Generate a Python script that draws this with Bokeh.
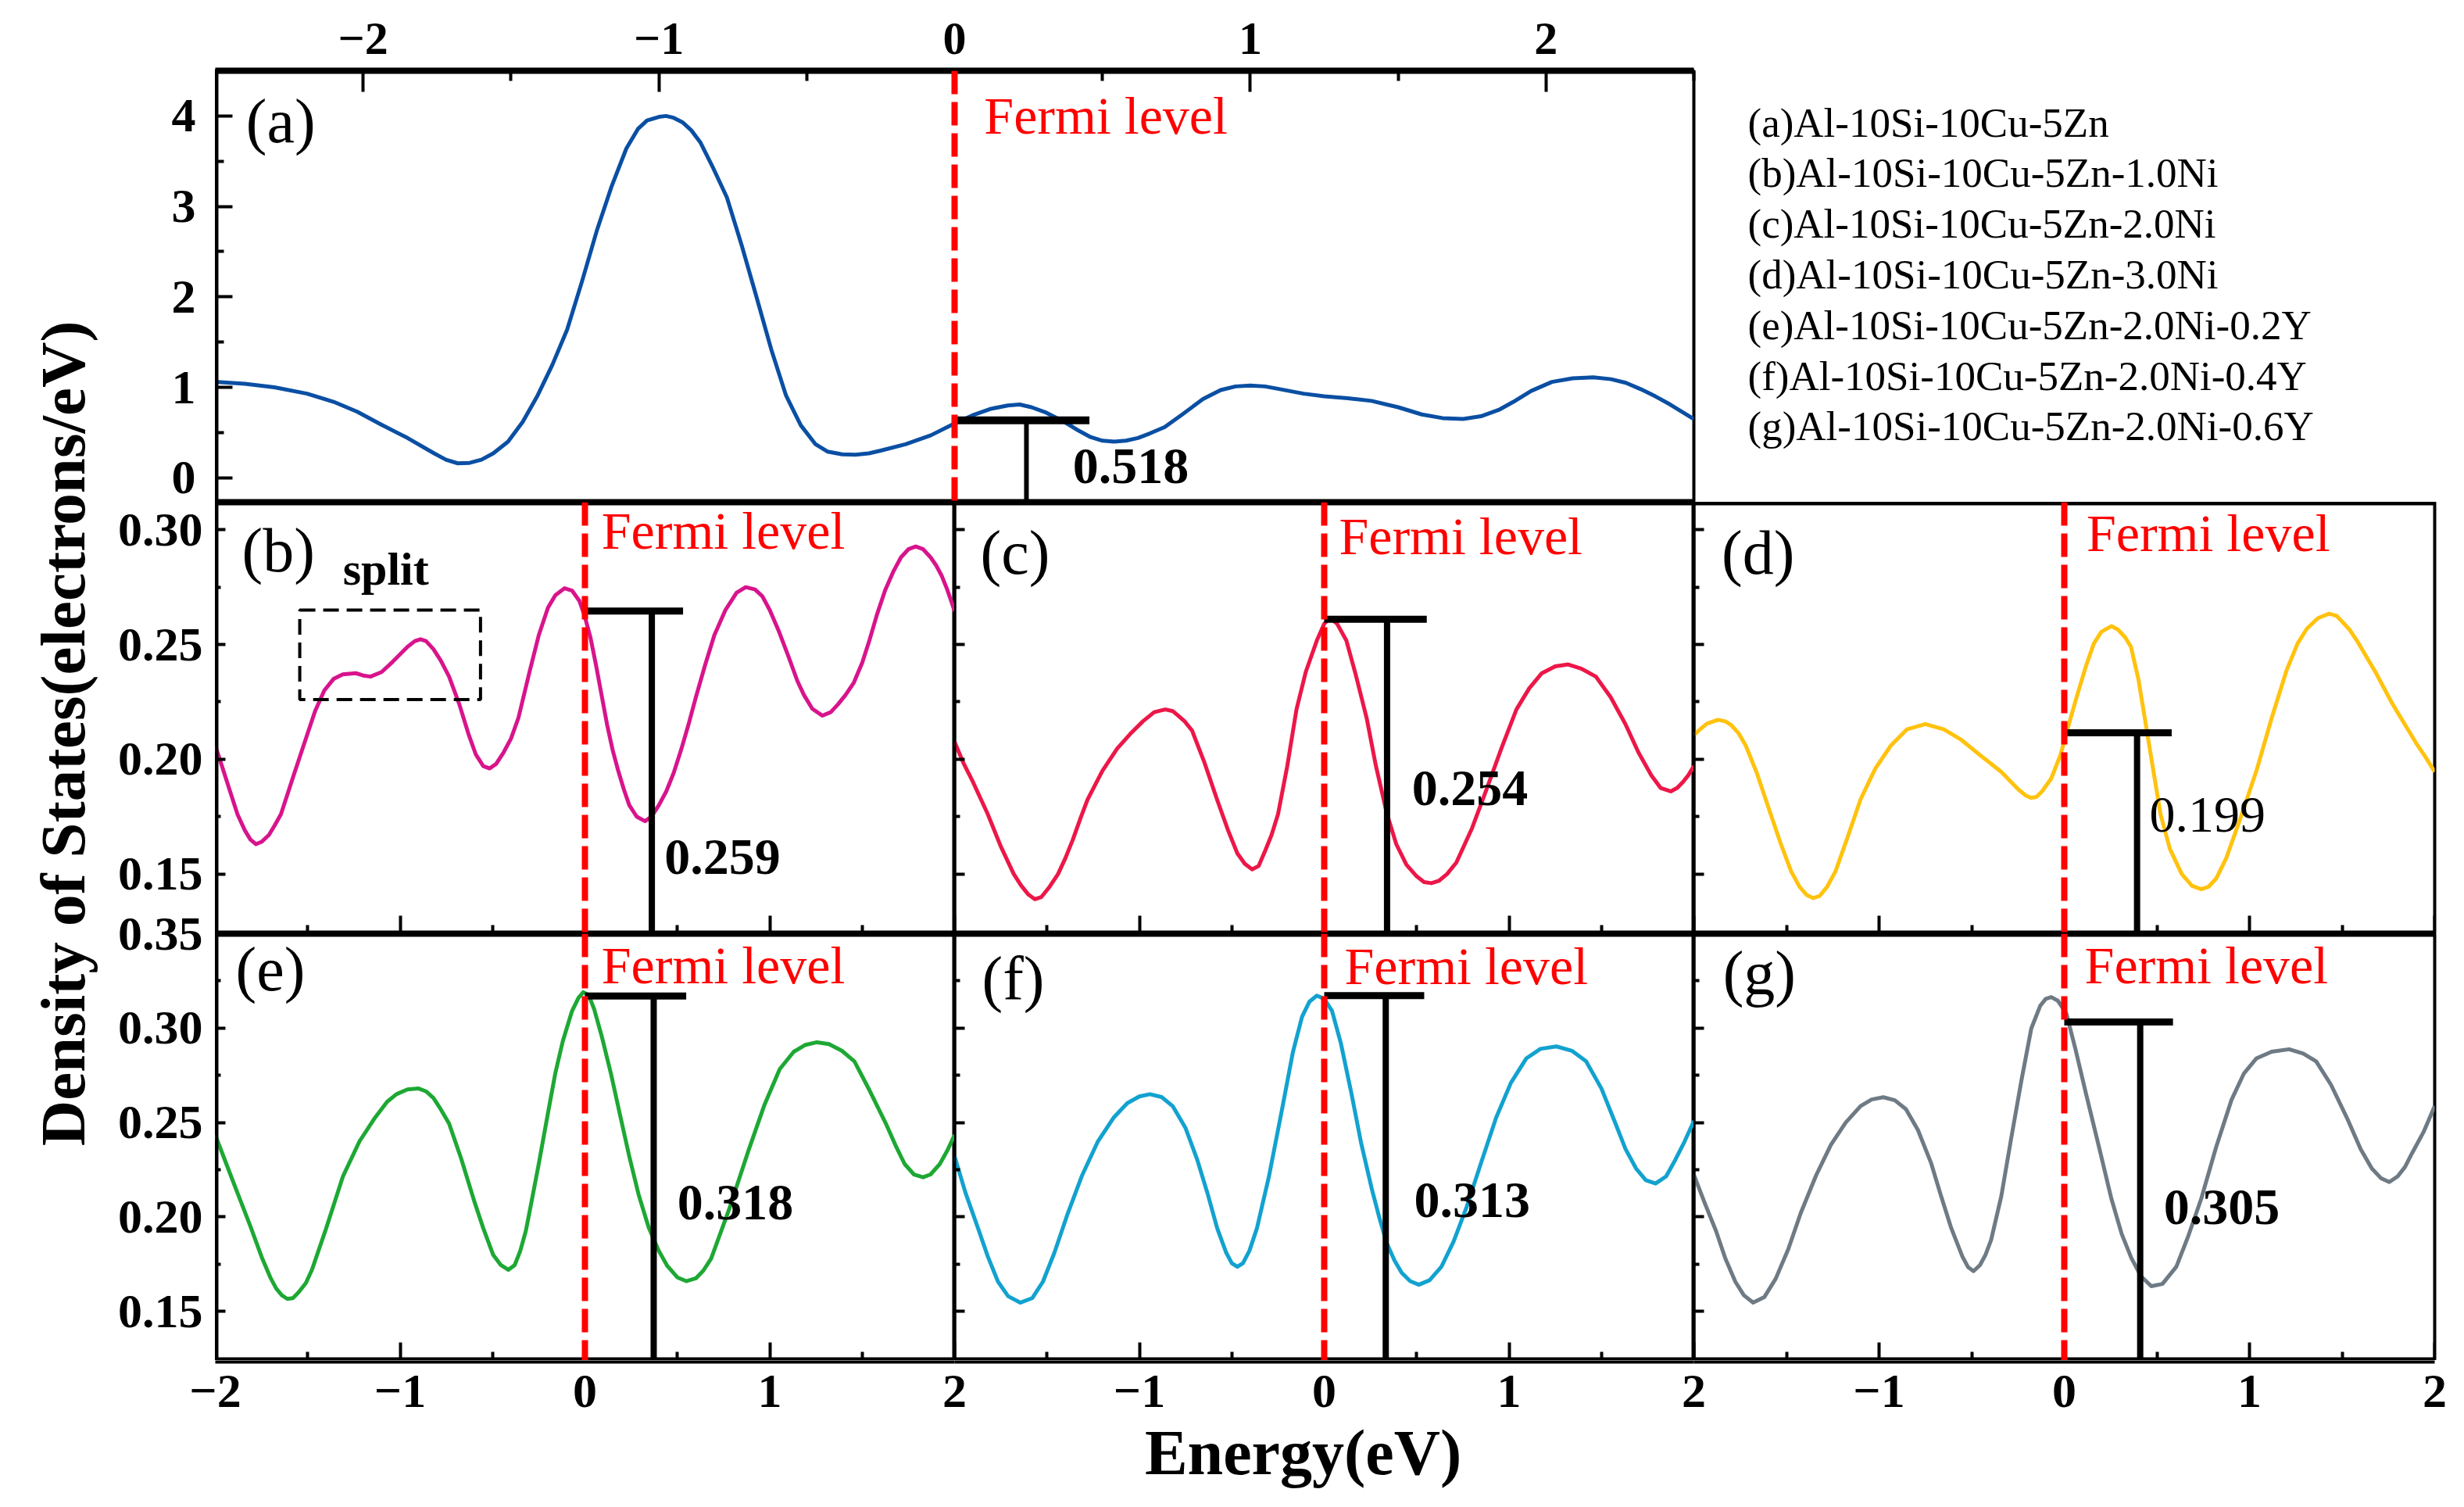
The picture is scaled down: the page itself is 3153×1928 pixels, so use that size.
import math

from bokeh.core.properties import value
from bokeh.embed import file_html
from bokeh.layouts import column, row
from bokeh.models import (CustomLabelingPolicy, FixedTicker, LinearAxis, PrintfTickFormatter,
                          Range1d, Span)
from bokeh.plotting import figure
from bokeh.resources import INLINE

SERIF = "Liberation Serif"

# ---- data ----
panel_tags = ["(a)", "(b)", "(c)", "(d)", "(e)", "(f)", "(g)"]
alloys = [
    "(a)Al-10Si-10Cu-5Zn",
    "(b)Al-10Si-10Cu-5Zn-1.0Ni",
    "(c)Al-10Si-10Cu-5Zn-2.0Ni",
    "(d)Al-10Si-10Cu-5Zn-3.0Ni",
    "(e)Al-10Si-10Cu-5Zn-2.0Ni-0.2Y",
    "(f)Al-10Si-10Cu-5Zn-2.0Ni-0.4Y",
    "(g)Al-10Si-10Cu-5Zn-2.0Ni-0.6Y",
]
colors = ["#0A4FA3", "#D8148C", "#EC1748", "#FFC20E", "#1DA834", "#12A2CF", "#6E7A84"]

energy_a = [-2.5, -2.4, -2.3, -2.19, -2.1, -2.02, -1.94, -1.85, -1.76, -1.72, -1.68, -1.64, -1.6,
            -1.56, -1.51, -1.46, -1.41, -1.36, -1.31, -1.26, -1.21, -1.16, -1.11, -1.07, -1.04,
            -1.0, -0.976, -0.95, -0.92, -0.89, -0.86, -0.82, -0.77, -0.72, -0.67, -0.62, -0.57,
            -0.52, -0.47, -0.43, -0.38, -0.335, -0.29, -0.25, -0.166, -0.08, 0.0, 0.06, 0.12,
            0.18, 0.22, 0.26, 0.31, 0.37, 0.42, 0.46, 0.5, 0.54, 0.58, 0.62, 0.66, 0.71, 0.77,
            0.84, 0.9, 0.95, 1.0, 1.05, 1.1, 1.18, 1.25, 1.33, 1.41, 1.5, 1.58, 1.65, 1.72, 1.78,
            1.84, 1.89, 1.95, 2.02, 2.09, 2.16, 2.22, 2.27, 2.32, 2.37, 2.42, 2.46, 2.5]
dos_a = [1.06, 1.04, 1.0, 0.93, 0.84, 0.73, 0.59, 0.44, 0.27, 0.2, 0.16, 0.165, 0.2,
         0.27, 0.4, 0.62, 0.91, 1.25, 1.64, 2.17, 2.73, 3.22, 3.64, 3.86, 3.95,
         3.99, 4.0, 3.98, 3.93, 3.84, 3.71, 3.45, 3.1, 2.57, 2.0, 1.42, 0.91,
         0.58, 0.37, 0.29, 0.26, 0.255, 0.27, 0.3, 0.37, 0.47, 0.6, 0.69, 0.76,
         0.8, 0.81, 0.78, 0.72, 0.62, 0.52, 0.45, 0.41, 0.4, 0.41, 0.44, 0.49, 0.56, 0.7,
         0.87, 0.97, 1.01, 1.02, 1.01, 0.98, 0.93, 0.9, 0.88, 0.85, 0.78, 0.7, 0.66, 0.65, 0.68,
         0.75, 0.84, 0.96, 1.06, 1.1, 1.11, 1.09, 1.05, 0.98, 0.9, 0.81, 0.73, 0.65]

energy_b = [-2.0, -1.96, -1.92, -1.88, -1.84, -1.81, -1.78, -1.75, -1.71, -1.68, -1.645, -1.58,
            -1.51, -1.46, -1.41, -1.36, -1.31, -1.24, -1.2, -1.16, -1.1, -1.04, -0.96, -0.92,
            -0.89, -0.86, -0.82, -0.78, -0.735, -0.68, -0.63, -0.59, -0.55, -0.516, -0.48, -0.44,
            -0.4, -0.36, -0.3, -0.25, -0.2, -0.16, -0.11, -0.07, -0.03, 0.0, 0.03, 0.06, 0.09,
            0.12, 0.15, 0.18, 0.21, 0.24, 0.28, 0.325, 0.36, 0.4, 0.44, 0.48, 0.52, 0.56, 0.6,
            0.65, 0.7, 0.76, 0.82, 0.87, 0.92, 0.96, 1.0, 1.05, 1.1, 1.15, 1.185, 1.23, 1.285,
            1.33, 1.37, 1.41, 1.455, 1.5, 1.54, 1.58, 1.625, 1.67, 1.71, 1.75, 1.79, 1.83, 1.87,
            1.9, 1.93, 1.96, 2.0]
dos_b = [0.206, 0.196, 0.186, 0.176, 0.169, 0.165, 0.163, 0.164, 0.167, 0.171, 0.176, 0.192,
         0.209, 0.221, 0.23, 0.235, 0.237, 0.2375, 0.2365, 0.236, 0.238, 0.2425, 0.249, 0.2515,
         0.2523, 0.2515, 0.248, 0.243, 0.236, 0.224, 0.211, 0.202, 0.197, 0.196, 0.198, 0.203,
         0.209, 0.218, 0.238, 0.254, 0.266, 0.2715, 0.2745, 0.2735, 0.269, 0.262, 0.253, 0.241,
         0.228, 0.215, 0.204, 0.195, 0.187, 0.18, 0.175, 0.173, 0.175, 0.18, 0.186, 0.194, 0.204,
         0.215, 0.227, 0.241, 0.254, 0.265, 0.2725, 0.275, 0.274, 0.271, 0.265, 0.2556, 0.245,
         0.234, 0.228, 0.222, 0.219, 0.2205, 0.224, 0.228, 0.2334, 0.242, 0.252, 0.263, 0.2738,
         0.282, 0.288, 0.2915, 0.2927, 0.2915, 0.288, 0.2845, 0.28, 0.274, 0.2646]

energy_c = [-2.0, -1.95, -1.9, -1.86, -1.82, -1.75, -1.68, -1.64, -1.6, -1.565, -1.53, -1.49,
            -1.44, -1.4, -1.36, -1.32, -1.28, -1.2, -1.12, -1.05, -0.98, -0.92, -0.86, -0.82,
            -0.79, -0.755, -0.715, -0.65, -0.58, -0.52, -0.47, -0.43, -0.39, -0.355, -0.32,
            -0.285, -0.25, -0.2, -0.15, -0.1, -0.04, 0.0, 0.03, 0.07, 0.12, 0.17, 0.23, 0.28,
            0.34, 0.39, 0.445, 0.5, 0.54, 0.58, 0.62, 0.665, 0.715, 0.8, 0.877, 0.96, 1.04, 1.11,
            1.176, 1.25, 1.32, 1.39, 1.47, 1.55, 1.63, 1.7, 1.77, 1.82, 1.875, 1.91, 1.94, 1.97,
            2.0]
dos_c = [0.2075, 0.198, 0.19, 0.183, 0.176, 0.162, 0.15, 0.145, 0.141, 0.139, 0.14, 0.144,
         0.15, 0.157, 0.165, 0.174, 0.1825, 0.195, 0.2047, 0.211, 0.2166, 0.2205, 0.2217, 0.221,
         0.219, 0.2165, 0.2125, 0.199, 0.1825, 0.169, 0.159, 0.1545, 0.152, 0.1535, 0.16,
         0.167, 0.176, 0.197, 0.2217, 0.238, 0.2517, 0.259, 0.2616, 0.259, 0.2517, 0.237, 0.2178,
         0.197, 0.176, 0.163, 0.154, 0.149, 0.1465, 0.146, 0.147, 0.15, 0.155, 0.17, 0.1866,
         0.205, 0.2217, 0.231, 0.2374, 0.2405, 0.2413, 0.2395, 0.236, 0.227, 0.2153, 0.203,
         0.193, 0.1875, 0.186, 0.1875, 0.19, 0.193, 0.197]

energy_d = [-2.0, -1.96, -1.93, -1.87, -1.83, -1.8, -1.76, -1.72, -1.66, -1.585, -1.53, -1.475,
            -1.43, -1.39, -1.355, -1.32, -1.28, -1.235, -1.17, -1.1, -1.02, -0.936, -0.85, -0.75,
            -0.65, -0.56, -0.45, -0.34, -0.25, -0.21, -0.18, -0.15, -0.12, -0.07, -0.02, 0.025,
            0.07, 0.12, 0.16, 0.2, 0.254, 0.29, 0.33, 0.36, 0.4, 0.44, 0.48, 0.52, 0.57, 0.634,
            0.69, 0.74, 0.78, 0.82, 0.875, 0.95, 1.04, 1.12, 1.2, 1.26, 1.31, 1.37, 1.43, 1.47,
            1.5, 1.54, 1.58, 1.68, 1.77, 1.84, 1.9, 1.95, 2.0]
dos_d = [0.2105, 0.2135, 0.2155, 0.2172, 0.2165, 0.215, 0.2115, 0.206, 0.194, 0.176, 0.163, 0.1512,
         0.1445, 0.1408, 0.1395, 0.1405, 0.1445, 0.1512, 0.166, 0.1825, 0.196, 0.206, 0.213, 0.2153,
         0.213, 0.2087, 0.2015, 0.1945, 0.187, 0.1843, 0.1832, 0.1836, 0.186, 0.1917, 0.202, 0.2153,
         0.228, 0.2413, 0.2505, 0.2555, 0.258, 0.2565, 0.253, 0.249, 0.235, 0.2153, 0.1955, 0.176,
         0.161, 0.15, 0.1448, 0.1434, 0.1445, 0.148, 0.157, 0.174, 0.1956, 0.218, 0.2387, 0.2505,
         0.2569, 0.2615, 0.2634, 0.2625, 0.26, 0.2565, 0.2517, 0.238, 0.2244, 0.215, 0.207, 0.201,
         0.1945]

energy_e = [-2.0, -1.94, -1.88, -1.81, -1.746, -1.7, -1.67, -1.64, -1.61, -1.58, -1.55, -1.51,
            -1.477, -1.4, -1.31, -1.22, -1.14, -1.07, -1.02, -0.96, -0.9, -0.86, -0.82, -0.78,
            -0.735, -0.67, -0.6, -0.55, -0.497, -0.455, -0.414, -0.38, -0.35, -0.32, -0.296,
            -0.25, -0.2, -0.16, -0.12, -0.07, -0.035, -0.009, 0.02, 0.05, 0.09, 0.14, 0.19, 0.24,
            0.29, 0.345, 0.4, 0.446, 0.5, 0.548, 0.6, 0.64, 0.683, 0.78, 0.885, 0.97, 1.054, 1.13,
            1.19, 1.255, 1.32, 1.39, 1.458, 1.54, 1.628, 1.68, 1.73, 1.78, 1.83, 1.87, 1.92, 1.96,
            2.0]
dos_e = [0.2434, 0.228, 0.2127, 0.195, 0.178, 0.1675, 0.162, 0.1585, 0.1566, 0.157, 0.16, 0.165,
         0.172, 0.194, 0.2213, 0.24, 0.252, 0.261, 0.265, 0.2675, 0.268, 0.2665, 0.263, 0.257,
         0.2494, 0.231, 0.2087, 0.194, 0.18, 0.1745, 0.172, 0.1745, 0.182, 0.1925, 0.2045,
         0.228, 0.255, 0.2762, 0.293, 0.309, 0.316, 0.319, 0.3175, 0.31, 0.296, 0.2762, 0.254,
         0.232, 0.212, 0.1944, 0.182, 0.174, 0.168, 0.166, 0.1675, 0.1715, 0.178, 0.204, 0.2352,
         0.259, 0.2783, 0.2875, 0.291, 0.2925, 0.2915, 0.288, 0.2824, 0.267, 0.2495, 0.238, 0.228,
         0.2225, 0.221, 0.2225, 0.228, 0.235, 0.2434]

energy_f = [-2.0, -1.94, -1.873, -1.82, -1.765, -1.71, -1.645, -1.58, -1.522, -1.46, -1.387, -1.31,
            -1.226, -1.14, -1.065, -1.0, -0.943, -0.88, -0.82, -0.75, -0.687, -0.63, -0.579,
            -0.53, -0.5, -0.47, -0.44, -0.405, -0.364, -0.3, -0.228, -0.17, -0.12, -0.08, -0.04,
            0.0, 0.042, 0.09, 0.148, 0.2, 0.258, 0.3, 0.338, 0.38, 0.419, 0.465, 0.512, 0.57,
            0.634, 0.7, 0.77, 0.85, 0.93, 1.01, 1.094, 1.17, 1.256, 1.34, 1.417, 1.5, 1.577, 1.63,
            1.687, 1.74, 1.793, 1.85, 1.9, 1.95, 2.0]
dos_f = [0.232, 0.2125, 0.194, 0.179, 0.1657, 0.158, 0.1546, 0.157, 0.1657, 0.181, 0.202, 0.222,
         0.2397, 0.2525, 0.2603, 0.2638, 0.265, 0.2635, 0.2587, 0.247, 0.2303, 0.212, 0.194,
         0.181, 0.1755, 0.1736, 0.1755, 0.182, 0.194, 0.221, 0.2571, 0.287, 0.306, 0.314, 0.3172,
         0.3155, 0.3092, 0.292, 0.265, 0.239, 0.2146, 0.199, 0.1862, 0.177, 0.1705, 0.166, 0.1641,
         0.1665, 0.1736, 0.187, 0.2051, 0.229, 0.2525, 0.271, 0.284, 0.289, 0.2903, 0.288, 0.2824,
         0.268, 0.2492, 0.236, 0.2257, 0.2195, 0.2177, 0.2215, 0.2303, 0.24, 0.2508]

energy_g = [-2.0, -1.94, -1.88, -1.83, -1.776, -1.73, -1.68, -1.62, -1.558, -1.49, -1.423, -1.34,
            -1.26, -1.18, -1.1, -1.04, -0.977, -0.915, -0.855, -0.79, -0.72, -0.665, -0.61, -0.55,
            -0.52, -0.49, -0.455, -0.425, -0.395, -0.34, -0.287, -0.23, -0.178, -0.13, -0.1, -0.07,
            -0.035, 0.011, 0.06, 0.118, 0.19, 0.254, 0.31, 0.362, 0.415, 0.47, 0.53, 0.605, 0.67,
            0.74, 0.82, 0.903, 0.97, 1.038, 1.12, 1.214, 1.29, 1.36, 1.44, 1.526, 1.6, 1.66, 1.71,
            1.755, 1.8, 1.84, 1.877, 1.94, 2.0]
dos_g = [0.2224, 0.207, 0.1925, 0.178, 0.1657, 0.1585, 0.1546, 0.1575, 0.1673, 0.183, 0.202, 0.222,
         0.2382, 0.25, 0.2587, 0.2622, 0.2634, 0.2618, 0.2571, 0.246, 0.2288, 0.211, 0.194, 0.179,
         0.1735, 0.1713, 0.1745, 0.18, 0.1878, 0.211, 0.2414, 0.273, 0.2998, 0.3118, 0.3155, 0.3164,
         0.3145, 0.3078, 0.289, 0.265, 0.236, 0.2098, 0.191, 0.1783, 0.1685, 0.1633, 0.1645, 0.1736,
         0.19, 0.2098, 0.237, 0.262, 0.276, 0.284, 0.2875, 0.2888, 0.2865, 0.2824, 0.27, 0.2525,
         0.236, 0.2257, 0.2205, 0.2185, 0.2215, 0.2265, 0.2336, 0.245, 0.2587]

energies = [energy_a, energy_b, energy_c, energy_d, energy_e, energy_f, energy_g]
dos = [dos_a, dos_b, dos_c, dos_d, dos_e, dos_f, dos_g]

# DOS level marked at the Fermi level ("T" marker) and its label
mark_level = [0.636, 0.2646, 0.261, 0.2115, 0.317, 0.3172, 0.3032]
mark_end = [0.456, 0.531, 0.555, 0.58, 0.548, 0.541, 0.587]
mark_stem = [0.243, 0.362, 0.34, 0.393, 0.372, 0.333, 0.41]
mark_text = ["0.518", "0.259", "0.254", "0.199", "0.318", "0.313", "0.305"]
mark_text_x = [0.4, 0.43, 0.475, 0.46, 0.5, 0.486, 0.537]
mark_text_y = [0.13, 0.1573, 0.1872, 0.1757, 0.2077, 0.2088, 0.2051]
mark_bold = [True, True, True, False, True, True, True]

fermi_text_x = [0.1, 0.09, 0.08, 0.12, 0.09, 0.11, 0.11]
fermi_text_y = [4.0, 0.2994, 0.2973, 0.2984, 0.3333, 0.3329, 0.3333]
tag_x = [-2.396, -1.856, -1.86, -1.85, -1.89, -1.852, -1.843]
tag_y = [3.94, 0.2912, 0.2902, 0.2902, 0.3312, 0.3263, 0.329]

split_box_x = [-1.543, -0.565]
split_box_y = [0.226, 0.265]
split_pos = [-1.31, 0.283]

energy_range_a = (-2.5, 2.5)
energy_range = (-2, 2)
dos_range_a = (-0.27, 4.5)
dos_range_top_row = (0.124, 0.312)
dos_range_bottom_row = (0.124, 0.35)

energy_ticks = [-2, -1, 0, 1, 2]
energy_minor = [-1.5, -0.5, 0.5, 1.5]
energy_top_minor = [-2.5, -1.5, -0.5, 0.5, 1.5, 2.5]
dos_a_ticks = [0, 1, 2, 3, 4]
dos_a_minor = [0.5, 1.5, 2.5, 3.5]
dos_ticks_top_row = [0.15, 0.2, 0.25, 0.3]
dos_ticks_bottom_row = [0.15, 0.2, 0.25, 0.3, 0.35]
dos_minor = [0.175, 0.225, 0.275, 0.325]
minus_labels = {-2: "\u22122", -1: "\u22121"}

# ---- layout sizes (px) ----
LEFT = 275                 # left strip: y title and y tick labels
COL_W = [946, 946, 948]
ROW_H = [552, 552, 546]
TOP = 90
BOTTOM = 175
LEG_W = 960
PLOT_H = TOP + sum(ROW_H)
FULL_W = LEFT + sum(COL_W) + 25

no_labels = CustomLabelingPolicy(code="for (const i of indices) { indices.unset(i) } return indices")


def add_axis(p, side, ticks, minor, major_len, minor_len, line_width, labelled=False,
             fixed=None, standoff=10, overrides=None, fmt=None, size="62px", **kw):
    ax = LinearAxis(ticker=FixedTicker(ticks=ticks, minor_ticks=minor), **kw)
    if fixed is not None:
        ax.fixed_location = fixed
    ax.major_tick_in = major_len
    ax.major_tick_out = 0
    ax.minor_tick_in = minor_len
    ax.minor_tick_out = 0
    ax.major_tick_line_width = 4
    ax.minor_tick_line_width = 4
    if major_len == 0:
        ax.major_tick_line_color = None
        ax.minor_tick_line_color = None
    if line_width:
        ax.axis_line_width = line_width
    else:
        ax.axis_line_color = None
    ax.major_label_text_font = SERIF
    ax.major_label_text_font_style = "bold"
    ax.major_label_text_font_size = size
    ax.major_label_text_color = "black"
    ax.major_label_standoff = standoff
    if not labelled:
        ax.major_label_policy = no_labels
    if fmt is not None:
        ax.formatter = fmt
    if overrides:
        ax.major_label_overrides = overrides
    p.add_layout(ax, side)
    return ax


def screen_range(v0, v1, px0, px1, total, flip=False):
    # range that puts v0..v1 on pixels px0..px1 of a frame that is `total` pixels long
    s = (px1 - px0) / (v1 - v0)
    if flip:  # pixels counted from the top
        return Range1d(v0 - (total - px1) / s, v1 + px0 / s)
    return Range1d(v0 - px0 / s, v0 + (total - px0) / s)


def bare_figure(**kw):
    p = figure(x_axis_location=None, y_axis_location=None, toolbar_location=None,
               output_backend="svg", min_border=0, **kw)
    p.outline_line_color = None
    p.grid.visible = False
    return p


def make_panel(i, xr, yr, fw, fh, right=0, top=0):
    p = figure(x_range=Range1d(*xr), y_range=Range1d(*yr), frame_width=fw, frame_height=fh,
               x_axis_location=None, y_axis_location=None, toolbar_location=None,
               output_backend="svg", min_border_left=0, min_border_right=right,
               min_border_top=top, min_border_bottom=0)
    p.outline_line_color = "black"
    p.outline_line_width = 4
    p.background_fill_color = "white"
    p.border_fill_color = "white"
    p.grid.visible = False

    p.line(energies[i], dos[i], line_color=colors[i], line_width=5, line_join="round")
    p.add_layout(Span(location=0, dimension="height", line_color="#FF0000",
                      line_width=8, line_dash="30 10"))

    wide = i == 0
    p.segment(x0=[0], y0=[mark_level[i]], x1=[mark_end[i]], y1=[mark_level[i]],
              line_color="black", line_width=10 if wide else 9)
    p.segment(x0=[mark_stem[i]], y0=[mark_level[i]], x1=[mark_stem[i]], y1=[yr[0]],
              line_color="black", line_width=6 if wide else 8)
    p.text(x=[mark_text_x[i]], y=[mark_text_y[i]], text=[mark_text[i]],
           text_font=value(SERIF), text_font_size="66px",
           text_font_style="bold" if mark_bold[i] else "normal",
           text_color="black", text_align="left", text_baseline="middle")
    p.text(x=[fermi_text_x[i]], y=[fermi_text_y[i]], text=["Fermi level"],
           text_font=value(SERIF), text_font_size="68px", text_color="#FF0000",
           text_align="left", text_baseline="middle")
    p.text(x=[tag_x[i]], y=[tag_y[i]], text=[panel_tags[i]],
           text_font=value(SERIF), text_font_size="80px", text_color="black",
           text_align="left", text_baseline="middle")
    return p


# (a) Al-10Si-10Cu-5Zn, spans two columns
pa = make_panel(0, energy_range_a, dos_range_a, COL_W[0] + COL_W[1], ROW_H[0], right=3, top=TOP)
add_axis(pa, "above", energy_ticks, energy_top_minor, 27, 13, 8, labelled=True,
         standoff=22, overrides=minus_labels, size="60px")
add_axis(pa, "left", dos_a_ticks, dos_a_minor, 22, 11, 8, fixed=energy_range_a[0])
add_axis(pa, "below", [], [], 0, 0, 8, fixed=dos_range_a[0])

panels = []
for k in range(6):
    i = k + 1
    r, c = divmod(k, 3)
    yr = dos_range_top_row if r == 0 else dos_range_bottom_row
    p = make_panel(i, energy_range, yr, COL_W[c], ROW_H[r + 1], right=4 if c == 2 else 0)
    yt = dos_ticks_top_row if r == 0 else dos_ticks_bottom_row
    add_axis(p, "left", yt, dos_minor, 13, 7, 8 if c == 0 else 4, fixed=energy_range[0])
    add_axis(p, "above", [], [], 0, 0, 8, fixed=yr[1])
    add_axis(p, "below", energy_ticks, energy_minor, 23, 11, 8, fixed=yr[0])
    panels.append(p)

pb = panels[0]
pb.quad(left=[split_box_x[0]], right=[split_box_x[1]], bottom=[split_box_y[0]], top=[split_box_y[1]],
        fill_color=None, line_color="black", line_width=4, line_dash="20 10")
pb.text(x=[split_pos[0]], y=[split_pos[1]], text=["split"], text_font=value(SERIF),
        text_font_size="60px", text_font_style="bold", text_color="black",
        text_align="left", text_baseline="middle")

# legend block on the right of (a); its frame is aligned with the frame of (a)
LINE0 = 156
LINE_GAP = 64.8
leg = figure(width=LEG_W, frame_height=ROW_H[0], min_border_top=TOP, min_border_bottom=0,
             min_border_left=0, min_border_right=0, x_range=Range1d(0, LEG_W),
             y_range=Range1d((TOP + ROW_H[0] - LINE0) / LINE_GAP, (TOP - LINE0) / LINE_GAP),
             x_axis_location=None, y_axis_location=None, toolbar_location=None,
             output_backend="svg")
leg.outline_line_color = None
leg.grid.visible = False
leg.text(x=[66] * len(alloys), y=list(range(len(alloys))), text=alloys,
         text_font=value(SERIF), text_font_size="53px", text_color="black",
         text_align="left", text_baseline="middle")

# left strip: y tick labels of every row and the y title
row_tops = [TOP, TOP + ROW_H[0], TOP + ROW_H[0] + ROW_H[1]]
left = bare_figure(width=LEFT, height=PLOT_H, x_range=Range1d(0, LEFT), y_range=Range1d(-PLOT_H, 0))
left.extra_y_ranges = {
    "a": screen_range(*dos_range_a, row_tops[0], row_tops[0] + ROW_H[0], PLOT_H, flip=True),
    "r1": screen_range(*dos_range_top_row, row_tops[1], row_tops[1] + ROW_H[1], PLOT_H, flip=True),
    "r2": screen_range(*dos_range_bottom_row, row_tops[2], row_tops[2] + ROW_H[2], PLOT_H, flip=True),
}
add_axis(left, "left", dos_a_ticks, [], 0, 0, 0, labelled=True, fixed=LEFT, standoff=25,
         y_range_name="a")
add_axis(left, "left", dos_ticks_top_row, [], 0, 0, 0, labelled=True, fixed=LEFT, standoff=16,
         fmt=PrintfTickFormatter(format="%.2f"), y_range_name="r1")
add_axis(left, "left", dos_ticks_bottom_row, [], 0, 0, 0, labelled=True, fixed=LEFT, standoff=16,
         fmt=PrintfTickFormatter(format="%.2f"), y_range_name="r2")
left.text(x=[80], y=[-938], text=["Density of States(electrons/eV)"],
          angle=math.pi / 2, text_font=value(SERIF), text_font_size="81px",
          text_font_style="bold", text_color="black", text_align="center",
          text_baseline="middle")

# bottom strip: energy tick labels of the lower row and the x title
col_left = [LEFT, LEFT + COL_W[0], LEFT + COL_W[0] + COL_W[1]]
bottom = bare_figure(width=FULL_W, height=BOTTOM, x_range=Range1d(0, FULL_W),
                     y_range=Range1d(-BOTTOM, 0))
bottom.extra_x_ranges = {
    name: screen_range(*energy_range, col_left[c], col_left[c] + COL_W[c], FULL_W)
    for c, name in enumerate(["e", "f", "g"])
}
for c, name in enumerate(["e", "f", "g"]):
    add_axis(bottom, "below", energy_ticks if c == 0 else energy_ticks[1:], [], 0, 0, 8,
             labelled=True, fixed=0, standoff=19, overrides=minus_labels,
             x_range_name=name, bounds=energy_range)
bottom.text(x=[-0.114], y=[-118], text=["Energy(eV)"], x_range_name="f",
            text_font=value(SERIF), text_font_size="82px", text_font_style="bold",
            text_color="black", text_align="center", text_baseline="middle")

grid = column(row(pa, leg), row(*panels[:3]), row(*panels[3:]))
layout = column(row(left, grid), bottom)

open("out.html", "w").write(file_html(layout, INLINE))
